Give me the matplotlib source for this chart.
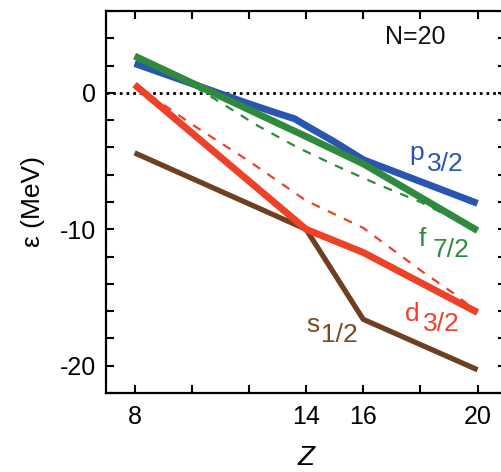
import matplotlib
matplotlib.use('Agg')
import matplotlib.pyplot as plt

plt.rcParams['font.family'] = ['Liberation Sans', 'DejaVu Sans']

# single-particle energies (MeV) vs proton number Z, N=20
z_p32 = [8, 12, 13, 13.6, 14, 15, 16, 20]
e_p32 = [2.15, -0.8, -1.5, -1.9, -2.4, -3.6, -4.9, -8.1]

z_f72 = [8, 14, 16, 20]
e_f72 = [2.7, -3.2, -5.2, -10.1]

z_d32 = [8, 14, 16, 20]
e_d32 = [0.6, -10.0, -11.7, -16.1]

z_s12 = [8, 14, 16, 20]
e_s12 = [-4.4, -10.0, -16.6, -20.3]

# dashed curves
z_f72_dash = [9.6, 11, 12.3, 13.7, 15, 16.5, 18, 20]
e_f72_dash = [1.1, -0.7, -2.4, -4.0, -5.3, -6.7, -8.0, -10.1]

z_d32_dash = [8, 10, 12, 14, 16, 18, 19.3, 20]
e_d32_dash = [0.6, -2.3, -5.0, -7.9, -9.9, -13.0, -14.9, -16.1]

x_ticks = [8, 14, 16, 20]
y_ticks = [0, -10, -20]

blue = '#2a56b2'
green = '#2f8a3e'
red = '#ee4128'
brown = '#6e3f20'

fig = plt.figure(figsize=(5.02, 4.72), dpi=100)
ax = fig.add_axes([0.2112, 0.1674, 0.797, 0.8093])

ax.axhline(0, color='black', lw=2.0, linestyle=(0, (1, 1.4)), zorder=1)

ax.plot(z_f72_dash, e_f72_dash, color=green, lw=1.6, dashes=(4, 4), zorder=2)
ax.plot(z_d32_dash, e_d32_dash, color=red, lw=1.6, dashes=(4, 4), zorder=2)

ax.plot(z_s12, e_s12, color=brown, lw=3.8, solid_capstyle='butt', zorder=3)
ax.plot(z_d32, e_d32, color=red, lw=5.0, solid_capstyle='butt', zorder=4)
ax.plot(z_p32, e_p32, color=blue, lw=5.0, solid_capstyle='butt', zorder=5)
ax.plot(z_f72, e_f72, color=green, lw=5.0, solid_capstyle='butt', zorder=6)

ax.set_xlim(7, 21)
ax.set_ylim(-22, 6)

ax.set_xticks(range(8, 21, 2), minor=True)
ax.set_xticks(x_ticks)
ax.set_yticks(range(-22, 7, 2), minor=True)
ax.set_yticks(y_ticks)
ax.set_xticklabels([str(v) for v in x_ticks])
ax.set_yticklabels([str(v) for v in y_ticks])

ax.tick_params(which='both', direction='in', top=True, right=True,
               length=6, width=1.5, labelsize=18)
ax.tick_params(axis='x', which='both', pad=9)
ax.tick_params(axis='y', which='both', pad=7)
for s in ax.spines.values():
    s.set_linewidth(1.6)

ax.set_ylabel('ε (MeV)', fontsize=19, labelpad=11)
ax.set_xlabel('Z', fontsize=20, style='italic', labelpad=11)

ax.text(16.75, 4.1, 'N=20', fontsize=18, color='#111111', va='center', ha='left')

# level labels with lowered fractions
def level_label(x, y, letter, frac, dx, color):
    ax.text(x, y, letter, fontsize=19, color=color, ha='left', va='baseline')
    ax.text(x + dx, y - 0.75, frac, fontsize=19, color=color, ha='left', va='baseline')

level_label(17.6, -4.95, 'p', '3/2', 0.63, blue)
level_label(17.93, -11.25, 'f', '7/2', 0.5, green)
level_label(17.45, -16.7, 'd', '3/2', 0.63, red)
level_label(14.0, -17.5, 's', '1/2', 0.53, '#7a4a25')

fig.savefig('out.png', dpi=100)
